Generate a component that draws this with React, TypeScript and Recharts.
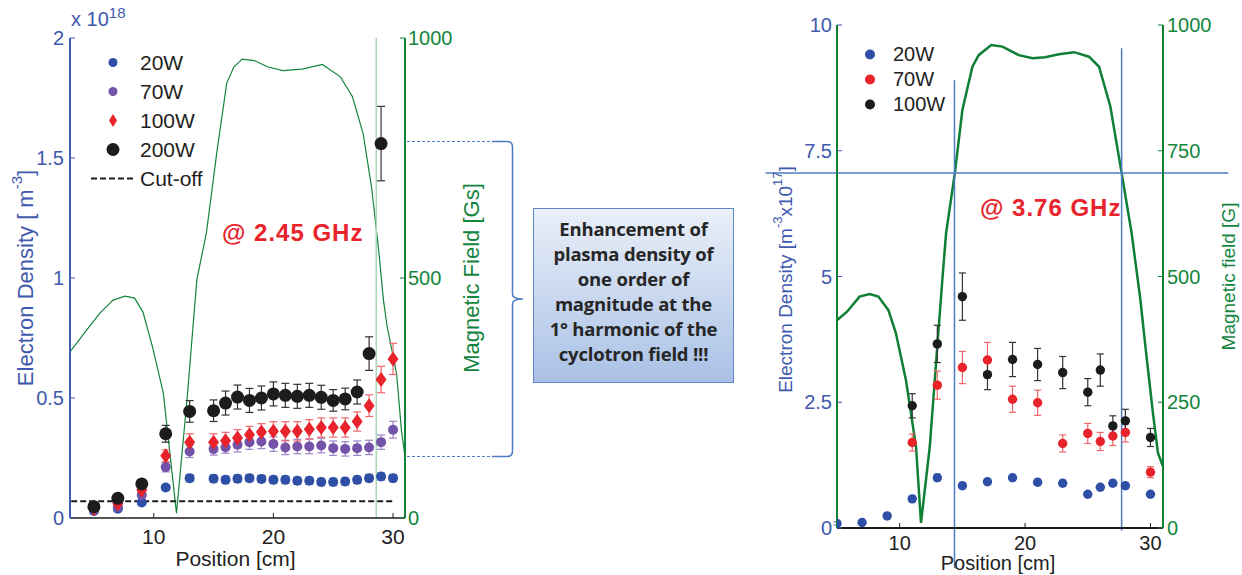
import React from 'react';
import {
  ComposedChart, Scatter, Line, XAxis, YAxis, ErrorBar, ReferenceLine, Legend,
} from 'recharts';

const FONT = '"Liberation Sans", Arial, sans-serif';
const BLUE = '#2f4fa6';
const PURPLE = '#7352a8';
const RED = '#e8232b';
const BLACK = '#1c1c1c';
const GREEN = '#13853d';
const TXT_BLUE = '#3e59ad';
const REF_BLUE = '#4d7cc4';

// ---- 2.45 GHz panel (density in 1e18 m^-3) ----
const posL = [5, 7, 9, 11, 13, 15, 16, 17, 18, 19, 20, 21, 22, 23, 24, 25, 26, 27, 28, 29, 30];
const w20L = [0.029, 0.039, 0.065, 0.127, 0.166, 0.164, 0.159, 0.164, 0.166, 0.163, 0.159, 0.159, 0.155, 0.155, 0.150, 0.150, 0.152, 0.159, 0.166, 0.173, 0.166];
const e20L = [0.005, 0.005, 0.008, 0.012, 0.015, 0.015, 0.015, 0.015, 0.015, 0.015, 0.015, 0.015, 0.015, 0.015, 0.015, 0.015, 0.015, 0.015, 0.015, 0.015, 0.015];
const w70L = [0.033, 0.047, 0.096, 0.212, 0.277, 0.287, 0.295, 0.305, 0.316, 0.319, 0.308, 0.294, 0.298, 0.298, 0.302, 0.291, 0.288, 0.291, 0.294, 0.316, 0.368];
const e70L = [0.005, 0.005, 0.01, 0.02, 0.025, 0.025, 0.025, 0.03, 0.03, 0.03, 0.03, 0.03, 0.03, 0.03, 0.03, 0.03, 0.03, 0.03, 0.03, 0.03, 0.035];
const w100L = [0.04, 0.06, 0.117, 0.259, 0.316, 0.316, 0.322, 0.333, 0.347, 0.358, 0.361, 0.361, 0.361, 0.370, 0.377, 0.377, 0.377, 0.402, 0.468, 0.577, 0.663];
const e100L = [0.005, 0.01, 0.015, 0.025, 0.035, 0.035, 0.035, 0.035, 0.035, 0.035, 0.04, 0.04, 0.04, 0.04, 0.04, 0.04, 0.04, 0.04, 0.045, 0.055, 0.065];
const pos200L = [5, 7, 9, 11, 13, 15, 16, 17, 18, 19, 20, 21, 22, 23, 24, 25, 26, 27, 28, 29];
const w200L = [0.047, 0.082, 0.142, 0.351, 0.444, 0.447, 0.479, 0.504, 0.490, 0.5, 0.517, 0.511, 0.507, 0.511, 0.503, 0.490, 0.496, 0.525, 0.685, 1.56];
const e200L = [0.01, 0.01, 0.015, 0.035, 0.045, 0.045, 0.05, 0.05, 0.05, 0.05, 0.05, 0.05, 0.05, 0.05, 0.05, 0.045, 0.045, 0.05, 0.07, 0.155];
const cutoffL = 0.07;
const fieldLx = [3, 4.4, 5.5, 6.6, 7.6, 8.4, 9.1, 9.9, 10.8, 11.9, 12.8, 13.6, 14.4, 15.3, 16.1, 16.7, 17.4, 18.4, 19.5, 20.8, 22.4, 24.1, 25.6, 26.6, 27.5, 28.2, 28.8, 29.2, 29.5, 30.3, 30.7, 31];
const fieldLb = [346, 392, 427, 454, 462, 458, 429, 356, 260, 10, 252, 496, 594, 767, 906, 940, 956, 953, 940, 932, 935, 945, 919, 878, 801, 690, 558, 454, 400, 300, 183, 128];

// ---- 3.76 GHz panel (density in 1e17 m^-3) ----
const posR20 = [5, 7, 9, 11, 13, 15, 17, 19, 21, 23, 25, 26, 27, 28, 30];
const w20R = [0.09, 0.11, 0.24, 0.58, 1.0, 0.84, 0.92, 1.0, 0.91, 0.89, 0.67, 0.81, 0.89, 0.84, 0.67];
const e20R = [0.03, 0.03, 0.04, 0.05, 0.07, 0.06, 0.06, 0.06, 0.06, 0.06, 0.05, 0.05, 0.06, 0.06, 0.05];
const posR = [11, 13, 15, 17, 19, 21, 23, 25, 26, 27, 28, 30];
const w70R = [1.70, 2.84, 3.19, 3.34, 2.56, 2.49, 1.68, 1.88, 1.72, 1.83, 1.90, 1.11];
const e70R = [0.17, 0.28, 0.32, 0.35, 0.26, 0.25, 0.17, 0.2, 0.18, 0.19, 0.19, 0.11];
const w100R = [2.43, 3.66, 4.60, 3.05, 3.35, 3.25, 3.09, 2.70, 3.14, 2.03, 2.13, 1.80];
const e100R = [0.24, 0.37, 0.47, 0.3, 0.34, 0.32, 0.32, 0.27, 0.32, 0.2, 0.23, 0.18];
const fieldRx = [5, 5.8, 6.8, 7.6, 8.3, 9.1, 9.7, 10.5, 11.3, 11.7, 12.4, 12.9, 13.4, 13.7, 14.4, 15.0, 15.8, 16.3, 17.3, 18.2, 19.5, 20.6, 21.6, 22.7, 23.9, 25.1, 25.9, 26.8, 27.7, 28.5, 29.2, 29.6, 30.2, 30.6, 31];
const fieldRb = [413, 430, 460, 465, 460, 433, 387, 294, 162, 10, 162, 328, 493, 586, 706, 831, 917, 940, 960, 957, 940, 934, 936, 942, 946, 937, 917, 838, 706, 586, 453, 360, 228, 149, 122];
const resonanceR = 7.06;
const resLowR = 14.37;
const resHighR = 27.7;

const pts = (xs: number[], ys: number[], es: number[]) => xs.map((x, i) => ({ x, y: ys[i], e: es[i] }));
const field = (xs: number[], bs: number[]) => xs.map((x, i) => ({ x, b: bs[i] }));

const dot = (r: number, fill: string) => (p: any) => <circle cx={p.cx} cy={p.cy} r={r} fill={fill} />;
const diamond = (fill: string) => (p: any) => (
  <polygon points={`${p.cx},${p.cy - 7.5} ${p.cx + 5.5},${p.cy} ${p.cx},${p.cy + 7.5} ${p.cx - 5.5},${p.cy}`} fill={fill} />
);

const tickStyle = (fill: string, size: number) => ({ fill, fontSize: size, fontFamily: FONT });

function LegendLeft() {
  const items = [
    { name: '20W', color: BLUE, kind: 'dot', r: 4.5 },
    { name: '70W', color: PURPLE, kind: 'dot', r: 4.5 },
    { name: '100W', color: RED, kind: 'diamond', r: 0 },
    { name: '200W', color: BLACK, kind: 'dot', r: 6.5 },
    { name: 'Cut-off', color: BLACK, kind: 'dash', r: 0 },
  ];
  return (
    <div style={{ fontFamily: FONT, fontSize: 21, color: '#222' }}>
      {items.map(it => (
        <div key={it.name} style={{ display: 'flex', alignItems: 'center', height: 29 }}>
          <svg width={50} height={29}>
            {it.kind === 'dot' && <circle cx={23} cy={14.5} r={it.r} fill={it.color} />}
            {it.kind === 'diamond' && <polygon points="23,8 27,14.5 23,21 19,14.5" fill={it.color} />}
            {it.kind === 'dash' && <line x1={1} x2={43} y1={14.5} y2={14.5} stroke={it.color} strokeWidth={2} strokeDasharray="6 3" />}
          </svg>
          <span>{it.name}</span>
        </div>
      ))}
    </div>
  );
}

function LegendRight() {
  const items = [
    { name: '20W', color: BLUE },
    { name: '70W', color: RED },
    { name: '100W', color: BLACK },
  ];
  return (
    <div style={{ fontFamily: FONT, fontSize: 20, color: '#222' }}>
      {items.map(it => (
        <div key={it.name} style={{ display: 'flex', alignItems: 'center', height: 25 }}>
          <svg width={28} height={25}>
            <circle cx={5} cy={12.5} r={5} fill={it.color} />
          </svg>
          <span>{it.name}</span>
        </div>
      ))}
    </div>
  );
}

const densityLabelL = (p: any) => {
  const vb = p.viewBox;
  const cx = vb.x + 5;
  const cy = vb.y + vb.height / 2;
  return (
    <text x={cx} y={cy} transform={`rotate(-90 ${cx} ${cy})`} textAnchor="middle" dominantBaseline="central"
      fill={TXT_BLUE} fontSize={22} fontFamily={FONT}>
      <tspan>Electron Density [ m</tspan>
      <tspan dy={-9} fontSize={15}>-3</tspan>
      <tspan dy={9}>]</tspan>
    </text>
  );
};

const fieldLabelL = (p: any) => {
  const vb = p.viewBox;
  const cx = vb.x + 66;
  const cy = vb.y + vb.height / 2;
  return (
    <text x={cx} y={cy} transform={`rotate(-90 ${cx} ${cy})`} textAnchor="middle" dominantBaseline="central"
      fill={GREEN} fontSize={22} fontFamily={FONT}>Magnetic Field [Gs]</text>
  );
};

const densityLabelR = (p: any) => {
  const vb = p.viewBox;
  const cx = vb.x + 3;
  const cy = vb.y + vb.height / 2 + 3;
  return (
    <text x={cx} y={cy} transform={`rotate(-90 ${cx} ${cy})`} textAnchor="middle" dominantBaseline="central"
      fill={TXT_BLUE} fontSize={19} fontFamily={FONT}>
      <tspan>Electron Density [m</tspan>
      <tspan dy={-8} fontSize={13}>-3</tspan>
      <tspan dy={8}>x10</tspan>
      <tspan dy={-8} fontSize={13}>17</tspan>
      <tspan dy={8}>]</tspan>
    </text>
  );
};

const fieldLabelR = (p: any) => {
  const vb = p.viewBox;
  const cx = vb.x + 65;
  const cy = vb.y + vb.height / 2;
  return (
    <text x={cx} y={cy} transform={`rotate(-90 ${cx} ${cy})`} textAnchor="middle" dominantBaseline="central"
      fill={GREEN} fontSize={19} fontFamily={FONT}>Magnetic field [G]</text>
  );
};

const posLabel = (dy: number, size: number) => (p: any) => {
  const vb = p.viewBox;
  return (
    <text x={vb.x + vb.width / 2 - 2} y={vb.y + dy} textAnchor="middle" dominantBaseline="central"
      fill="#222" fontSize={size} fontFamily={FONT}>Position [cm]</text>
  );
};

function LeftPanel() {
  return (
    <ComposedChart width={500} height={575} margin={{ top: 38, right: 45, bottom: 27, left: 20 }}>
      <XAxis xAxisId="b" dataKey="x" type="number" domain={[3, 31]} ticks={[10, 20, 30]} allowDataOverflow
        tickSize={-5} tickMargin={16} height={30} tick={tickStyle('#222', 21)}
        axisLine={{ stroke: BLACK, strokeWidth: 1.5 }} tickLine={{ stroke: BLACK }} label={posLabel(40, 21)} />
      <XAxis xAxisId="t" orientation="top" dataKey="x" type="number" domain={[3, 31]} ticks={[10, 20, 30]}
        allowDataOverflow tickSize={-5} height={0} tick={false}
        axisLine={{ stroke: BLACK, strokeWidth: 1.5 }} tickLine={{ stroke: BLACK }} />
      <YAxis yAxisId="n" type="number" domain={[0, 2]} ticks={[0, 0.5, 1, 1.5, 2]} width={50}
        tickSize={-5} tickMargin={11} tick={tickStyle(TXT_BLUE, 20)}
        axisLine={{ stroke: '#3f5db0', strokeWidth: 2 }} tickLine={{ stroke: '#3f5db0' }} label={densityLabelL} />
      <YAxis yAxisId="b" orientation="right" type="number" domain={[0, 1000]} ticks={[0, 500, 1000]} width={50}
        tickSize={-5} tickMargin={8} tick={tickStyle(GREEN, 20)}
        axisLine={{ stroke: '#11803b', strokeWidth: 2 }} tickLine={{ stroke: '#11803b' }} label={fieldLabelL} />

      <Line xAxisId="b" yAxisId="b" data={field(fieldLx, fieldLb)} dataKey="b" type="linear" dot={false}
        stroke={GREEN} strokeWidth={1.2} isAnimationActive={false} />
      <ReferenceLine xAxisId="b" yAxisId="n" x={28.6} stroke="#a6d6b3" strokeWidth={1.5} />
      <ReferenceLine xAxisId="b" yAxisId="n" segment={[{ x: 3.1, y: cutoffL }, { x: 30, y: cutoffL }]}
        stroke={BLACK} strokeWidth={2} strokeDasharray="6 3" />

      <Scatter xAxisId="b" yAxisId="n" name="20W" data={pts(posL, w20L, e20L)} dataKey="y" shape={dot(5, BLUE)} isAnimationActive={false}>
        <ErrorBar dataKey="e" direction="y" width={4} stroke="#6f86c6" strokeWidth={1.2} />
      </Scatter>
      <Scatter xAxisId="b" yAxisId="n" name="70W" data={pts(posL, w70L, e70L)} dataKey="y" shape={dot(5, PURPLE)} isAnimationActive={false}>
        <ErrorBar dataKey="e" direction="y" width={4} stroke="#9c84c8" strokeWidth={1.2} />
      </Scatter>
      <Scatter xAxisId="b" yAxisId="n" name="100W" data={pts(posL, w100L, e100L)} dataKey="y" shape={diamond(RED)} isAnimationActive={false}>
        <ErrorBar dataKey="e" direction="y" width={4} stroke="#f0666b" strokeWidth={1.2} />
      </Scatter>
      <Scatter xAxisId="b" yAxisId="n" name="200W" data={pts(pos200L, w200L, e200L)} dataKey="y" shape={dot(6.5, BLACK)} isAnimationActive={false}>
        <ErrorBar dataKey="e" direction="y" width={4} stroke="#333" strokeWidth={1.2} />
      </Scatter>

      <Legend layout="vertical" align="center" verticalAlign="middle" content={() => <LegendLeft />}
        wrapperStyle={{ left: 90, top: 48, width: 160 }} />
    </ComposedChart>
  );
}

function RightPanel() {
  return (
    <ComposedChart width={482} height={575} margin={{ top: 25, right: 24, bottom: 17, left: 22 }}>
      <XAxis xAxisId="b" dataKey="x" type="number" domain={[5, 31]} ticks={[10, 20, 30]} allowDataOverflow
        tickSize={-5} tickMargin={13} height={30} tick={tickStyle('#222', 20)}
        axisLine={{ stroke: BLACK, strokeWidth: 2 }} tickLine={{ stroke: BLACK }} label={posLabel(35, 20)} />
      <XAxis xAxisId="t" orientation="top" dataKey="x" type="number" domain={[5, 31]} ticks={[10, 20, 30]}
        allowDataOverflow tickSize={-5} height={0} tick={false}
        axisLine={{ stroke: BLACK, strokeWidth: 2 }} tickLine={{ stroke: BLACK }} />
      <YAxis yAxisId="n" type="number" domain={[0, 10]} ticks={[0, 2.5, 5, 7.5, 10]} width={55}
        tickSize={-5} tickMargin={10} tick={tickStyle(TXT_BLUE, 20)}
        axisLine={{ stroke: '#0f7f35', strokeWidth: 2 }} tickLine={{ stroke: TXT_BLUE }} label={densityLabelR} />
      <YAxis yAxisId="b" orientation="right" type="number" domain={[0, 1000]} ticks={[0, 250, 500, 750, 1000]} width={55}
        tickSize={-5} tickMargin={9} tick={tickStyle(GREEN, 20)}
        axisLine={{ stroke: '#0f7f35', strokeWidth: 2 }} tickLine={{ stroke: '#0f7f35' }} label={fieldLabelR} />

      <Line xAxisId="b" yAxisId="b" data={field(fieldRx, fieldRb)} dataKey="b" type="linear" dot={false}
        stroke="#0f7f35" strokeWidth={2.5} isAnimationActive={false} />
      <ReferenceLine xAxisId="b" yAxisId="n" ifOverflow="visible"
        segment={[{ x: -0.7, y: resonanceR }, { x: 36.2, y: resonanceR }]} stroke={REF_BLUE} strokeWidth={1.5} />
      <ReferenceLine xAxisId="b" yAxisId="n" ifOverflow="visible"
        segment={[{ x: resLowR, y: 8.9 }, { x: resLowR, y: -0.8 }]} stroke={REF_BLUE} strokeWidth={1.5} />
      <ReferenceLine xAxisId="b" yAxisId="n" ifOverflow="visible"
        segment={[{ x: resHighR, y: 9.54 }, { x: resHighR, y: -0.05 }]} stroke={REF_BLUE} strokeWidth={1.5} />

      <Scatter xAxisId="b" yAxisId="n" name="20W" data={pts(posR20, w20R, e20R)} dataKey="y" shape={dot(4.7, BLUE)} isAnimationActive={false}>
        <ErrorBar dataKey="e" direction="y" width={3.5} stroke="#6f86c6" strokeWidth={1.2} />
      </Scatter>
      <Scatter xAxisId="b" yAxisId="n" name="70W" data={pts(posR, w70R, e70R)} dataKey="y" shape={dot(4.7, RED)} isAnimationActive={false}>
        <ErrorBar dataKey="e" direction="y" width={3.5} stroke="#f0666b" strokeWidth={1.2} />
      </Scatter>
      <Scatter xAxisId="b" yAxisId="n" name="100W" data={pts(posR, w100R, e100R)} dataKey="y" shape={dot(4.7, BLACK)} isAnimationActive={false}>
        <ErrorBar dataKey="e" direction="y" width={3.5} stroke="#333" strokeWidth={1.2} />
      </Scatter>

      <Legend layout="vertical" align="center" verticalAlign="middle" content={() => <LegendRight />}
        wrapperStyle={{ left: 105, top: 42, width: 120 }} />
    </ComposedChart>
  );
}

export default function App() {
  const red: React.CSSProperties = {
    position: 'absolute', color: RED, fontFamily: FONT, fontWeight: 700, fontSize: 24,
    letterSpacing: 1, lineHeight: '28px', whiteSpace: 'nowrap',
  };
  return (
    <div style={{ position: 'absolute', left: 0, top: 0, width: 1242, height: 575, background: '#fff', overflow: 'hidden' }}>
      <div style={{ position: 'absolute', left: 0, top: 0 }}>
        <LeftPanel />
      </div>
      <div style={{ position: 'absolute', left: 760, top: 0 }}>
        <RightPanel />
      </div>

      <div style={{ position: 'absolute', left: 71, top: 8, color: TXT_BLUE, fontFamily: FONT, fontSize: 20, whiteSpace: 'nowrap' }}>
        x 10<sup style={{ fontSize: 15, verticalAlign: 'top', position: 'relative', top: -4 }}>18</sup>
      </div>
      <div style={{ ...red, left: 222, top: 219 }}>@ 2.45 GHz</div>
      <div style={{ ...red, left: 980, top: 194 }}>@ 3.76 GHz</div>

      <svg width={1242} height={575} style={{ position: 'absolute', left: 0, top: 0, pointerEvents: 'none' }}>
        <line x1={407} x2={492} y1={141.5} y2={141.5} stroke={REF_BLUE} strokeWidth={1.2} strokeDasharray="3 2" />
        <line x1={407} x2={492} y1={456.5} y2={456.5} stroke={REF_BLUE} strokeWidth={1.2} strokeDasharray="3 2" />
        <path d="M492,141.5 L507,141.5 Q512.5,141.5 512.5,147 L512.5,294 Q512.5,299 523,299 Q512.5,299 512.5,304 L512.5,451 Q512.5,456.5 507,456.5 L492,456.5"
          fill="none" stroke={REF_BLUE} strokeWidth={1.5} />
      </svg>

      <div style={{
        position: 'absolute', left: 533, top: 208, width: 201, height: 175, boxSizing: 'border-box',
        border: '1.5px solid #5f87c6', background: 'linear-gradient(#eaeff8, #a9c1e6)',
        display: 'flex', alignItems: 'center', justifyContent: 'center', textAlign: 'center', paddingBottom: 10,
        fontFamily: '"Open Sans", sans-serif', fontWeight: 700, fontSize: 18.5, lineHeight: '25px', color: '#262626',
        letterSpacing: -0.2, whiteSpace: 'nowrap',
      }}>
        <div>
          Enhancement of<br />plasma density of<br />one order of<br />magnitude at the<br />1° harmonic of the<br />cyclotron field !!!
        </div>
      </div>
    </div>
  );
}
